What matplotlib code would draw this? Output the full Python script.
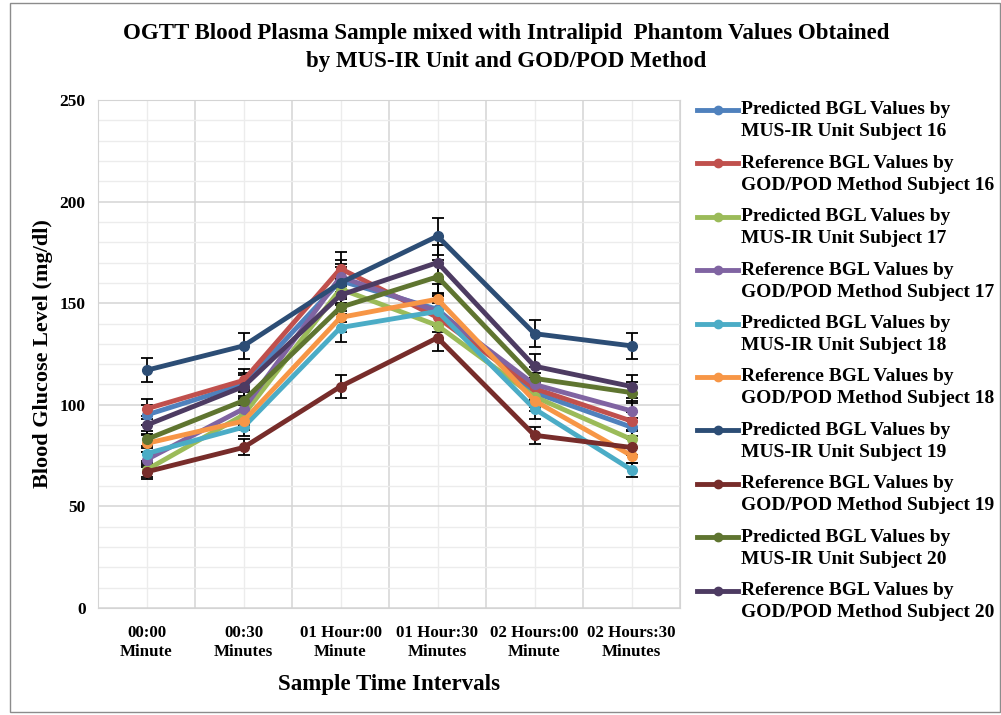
import numpy as np
import matplotlib.pyplot as plt
from matplotlib.lines import Line2D
from matplotlib.patches import Rectangle
from matplotlib.ticker import MultipleLocator

plt.rcParams['font.family'] = ['Liberation Serif', 'DejaVu Serif']

time_labels = ["00:00\nMinute", "00:30\nMinutes", "01 Hour:00\nMinute",
               "01 Hour:30\nMinutes", "02 Hours:00\nMinute", "02 Hours:30\nMinutes"]

series_names = [
    "Predicted BGL Values by\nMUS-IR Unit Subject 16",
    "Reference BGL Values by\nGOD/POD Method Subject 16",
    "Predicted BGL Values by\nMUS-IR Unit Subject 17",
    "Reference BGL Values by\nGOD/POD Method Subject 17",
    "Predicted BGL Values by\nMUS-IR Unit Subject 18",
    "Reference BGL Values by\nGOD/POD Method Subject 18",
    "Predicted BGL Values by\nMUS-IR Unit Subject 19",
    "Reference BGL Values by\nGOD/POD Method Subject 19",
    "Predicted BGL Values by\nMUS-IR Unit Subject 20",
    "Reference BGL Values by\nGOD/POD Method Subject 20",
]

pred_16 = [95, 110, 161, 147, 106, 89]
ref_16 = [98, 112, 167, 143, 108, 92]
pred_17 = [68, 95, 157, 139, 104, 83]
ref_17 = [73, 98, 163, 146, 110, 97]
pred_18 = [76, 89, 138, 146, 98, 68]
ref_18 = [81, 92, 143, 152, 102, 75]
pred_19 = [117, 129, 160, 183, 135, 129]
ref_19 = [67, 79, 109, 133, 85, 79]
pred_20 = [83, 102, 148, 163, 113, 106]
ref_20 = [90, 109, 154, 170, 119, 109]

all_series = [pred_16, ref_16, pred_17, ref_17, pred_18, ref_18,
              pred_19, ref_19, pred_20, ref_20]

colors = ["#4F81BD", "#C0504D", "#9BBB59", "#8064A2", "#4BACC6", "#F79646",
          "#2C4D75", "#772C2A", "#5F7530", "#4D3B62"]

fig = plt.figure(figsize=(10.01, 7.15), dpi=100)
ax = fig.add_axes([98 / 1001, 1 - 608 / 715, 582 / 1001, 508 / 715])

x = np.arange(len(time_labels))
for vals, col in zip(all_series, colors):
    vals = np.array(vals, dtype=float)
    ax.errorbar(x, vals, yerr=vals * 0.05, color=col, lw=3.5, marker="o", ms=7,
                ecolor="black", elinewidth=1.3, capsize=4.5, capthick=1.3, zorder=3)

ax.set_xlim(-0.5, 5.5)
ax.set_ylim(0, 250)
ax.yaxis.set_major_locator(MultipleLocator(50))
ax.yaxis.set_minor_locator(MultipleLocator(10))
ax.set_xticks(x)
ax.set_xticks(np.arange(-0.5, 6, 1), minor=True)
ax.set_xticklabels(time_labels, fontsize=12.2, fontweight="bold", linespacing=1.25)
for lab in ax.get_yticklabels():
    lab.set_fontsize(12.5)
    lab.set_fontweight("bold")
ax.tick_params(which="both", length=0)
ax.tick_params(axis="x", pad=12)
ax.tick_params(axis="y", pad=9)

ax.grid(True, which="major", axis="y", color="#d4d4d4", lw=1.1, zorder=0)
ax.grid(True, which="minor", axis="y", color="#ececec", lw=1.0, zorder=0)
ax.grid(True, which="minor", axis="x", color="#d4d4d4", lw=1.1, zorder=0)
ax.grid(True, which="major", axis="x", color="#ececec", lw=1.0, zorder=0)
for s in ax.spines.values():
    s.set_color("#d4d4d4")

ax.set_xlabel("Sample Time Intervals", fontsize=16.5, fontweight="bold", labelpad=10)
ax.set_ylabel("Blood Glucose Level (mg/dl)", fontsize=16, fontweight="bold", labelpad=5)

fig.text(506 / 1001, 1 - 34 / 715, "OGTT Blood Plasma Sample mixed with Intralipid  Phantom Values Obtained",
         ha="center", va="center", fontsize=16.5, fontweight="bold")
fig.text(506 / 1001, 1 - 61 / 715, "by MUS-IR Unit and GOD/POD Method",
         ha="center", va="center", fontsize=16.5, fontweight="bold")

# legend drawn by hand so the line sits on the first text row
for i, (name, col) in enumerate(zip(series_names, colors)):
    y0 = 110 + i * 53.4
    fy = 1 - y0 / 715
    fig.add_artist(Line2D([697 / 1001, 738 / 1001], [fy, fy], color=col, lw=3.5,
                          transform=fig.transFigure))
    fig.add_artist(Line2D([717.5 / 1001], [fy], color=col, marker="o", ms=6,
                          transform=fig.transFigure))
    first, second = name.split("\n")
    fig.text(741 / 1001, fy, first, ha="left", va="center",
             fontsize=14, fontweight="bold")
    fig.text(741 / 1001, 1 - (y0 + 22) / 715, second, ha="left",
             va="center", fontsize=14, fontweight="bold")

fig.add_artist(Rectangle((10 / 1001, 3 / 715), 1 - 11 / 1001, 1 - 6 / 715,
                         fill=False, edgecolor="#8c8c8c", lw=1, transform=fig.transFigure))

fig.savefig("out.png", dpi=100)
